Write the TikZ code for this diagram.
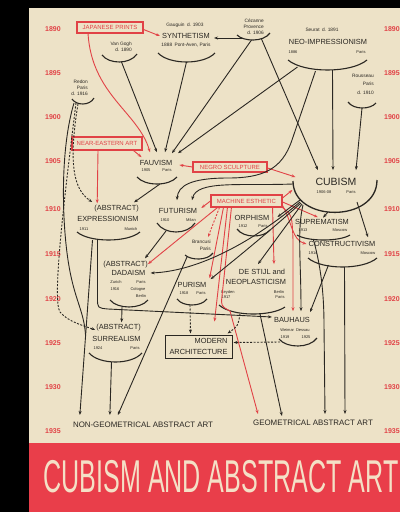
\documentclass[tikz,border=0pt]{standalone}
\usepackage{fontspec}
\setmainfont{Liberation Sans}
\usepackage{tikz}
\usetikzlibrary{arrows.meta,calc,positioning}
\definecolor{pagecream}{RGB}{237,226,199}
\definecolor{bandred}{RGB}{233,62,74}
\definecolor{titlecream}{RGB}{244,224,198}
\definecolor{inkgray}{RGB}{42,39,34}
\definecolor{chartred}{RGB}{225,66,70}

% bracket under a movement: name, x1, y1, x2, y2, y of the bottom
\newcommand{\arcunder}[6]{%
  \draw[arcline] (#2,#3) .. controls ({#2+0.2*(#4-#2)},{(4*#6-#3)/3}) and ({#4-0.2*(#4-#2)},{(4*#6-#5)/3}) .. (#4,#5);
  \coordinate (#1) at ({(#2+#4)/2},#6);}

\begin{document}
\begin{tikzpicture}[x=1pt, y=-1pt, >={Stealth[length=4pt, width=3pt]},
    mv/.style={text=inkgray, inner sep=0pt, font=\fontsize{7.4}{8}\selectfont},
    note/.style={text=inkgray, inner sep=0pt, font=\fontsize{4.8}{6}\selectfont},
    dt/.style={text=inkgray, inner sep=0pt, font=\fontsize{4}{5}\selectfont},
    srcbox/.style={draw=chartred, line width=1.1pt, text=chartred, inner sep=0pt, font=\fontsize{6}{7}\selectfont},
    yearlab/.style={text=chartred, inner sep=0pt, font=\bfseries\fontsize{7}{8}\selectfont},
    bottomlab/.style={text=inkgray, inner sep=0pt, font=\fontsize{7.9}{9}\selectfont},
    arcline/.style={draw=inkgray, line width=1.1pt},
    link/.style={->, draw=inkgray, line width=0.9pt},
    redlink/.style={->, draw=chartred, line width=0.9pt},
    dashlink/.style={link, dash pattern=on 2pt off 1.5pt}]
    \useasboundingbox (0,0) rectangle (400,512);
    \fill[black] (0,0) rectangle (400,512);
    \fill[pagecream] (29,8) rectangle (400,512);
    \fill[bandred] (29,443) rectangle (400,512);

    % years down both margins
    \foreach \yr/\yy in {1890/29, 1895/73, 1900/117, 1905/161, 1910/209, 1915/254, 1920/299, 1925/343, 1930/387, 1935/431} {
        \node[yearlab] (yl\yr) at (53,\yy) {\yr};
        \node[yearlab, anchor=west] (yr\yr) at (384,\yy) {\yr};
    }

    % sources
    \node[srcbox, minimum width=66pt, minimum height=11pt] (japan) at (110,27.5) {JAPANESE PRINTS};
    \node[srcbox, minimum width=70pt, minimum height=13pt] (neareast) at (107,143.5) {NEAR-EASTERN ART};
    \node[srcbox, minimum width=74pt, minimum height=10pt] (negro) at (230,167) {NEGRO SCULPTURE};
    \node[srcbox, minimum width=71pt, minimum height=12pt] (machine) at (246.5,201) {MACHINE ESTHETIC};

    % 1890s
    \node[note, align=right, anchor=east] (vangogh) at (132,46.5) {Van Gogh\\d. 1890};
    \arcunder{vg-b}{102}{55}{137}{54}{62}
    \node[note] (gauguin) at (185,25) {Gauguin\enspace d. 1903};
    \node[mv] (synth) at (186,36) {SYNTHETISM};
    \node[note] (synthdate) at (186,45) {1888\enspace Pont-Aven, Paris};
    \arcunder{syn-b}{158}{53}{215}{53}{62}
    \node[note, align=right, anchor=east] (cezanne) at (264,27) {Cézanne\\Provence\\d. 1906};
    \arcunder{cez-b}{237}{35}{270}{33}{40}
    \node[note] (seurat) at (322,30) {Seurat\enspace d. 1891};
    \node[mv] (neoimp) at (328,42) {NEO-IMPRESSIONISM};
    \node[dt] (neoimp-y) at (293,52) {1886};
    \node[dt] (neoimp-p) at (361,52) {Paris};
    \arcunder{neo-b}{288}{60}{367}{60}{70}
    \node[note, align=right, anchor=east, font=\fontsize{4.8}{8.5}\selectfont] (rousseau) at (374,84) {Rousseau\\Paris\\d. 1910};
    \arcunder{rou-b}{348}{102}{376}{103}{108}
    \node[note, align=right, anchor=east] (redon) at (88,88) {Redon\\Paris\\d. 1916};
    \arcunder{red-b}{72}{99}{94}{98}{104}

    % 1905--1915
    \node[mv] (fauv) at (156,163) {FAUVISM};
    \node[dt] (fauv-y) at (146,170.5) {1905};
    \node[dt] (fauv-p) at (167,170.5) {Paris};
    \arcunder{fauv-b}{137}{177}{177}{177}{184}
    \node[mv, font=\fontsize{10.5}{12}\selectfont] (cubism) at (336,182) {CUBISM};
    \node[dt] (cubism-y) at (324,192) {1906-08};
    \node[dt] (cubism-p) at (351,192) {Paris};
    \draw[arcline, line width=1.3pt] (293,181) .. controls (293,223) and (377,223) .. (377,180);
    \coordinate (cub-b) at (335,212);
    \node[mv, anchor=east] (abs1) at (139,209) {(ABSTRACT)};
    \node[mv] (expr) at (108,219) {EXPRESSIONISM};
    \node[dt] (expr-y) at (84,229) {1911};
    \node[dt] (expr-p) at (131,229) {Munich};
    \arcunder{expr-b}{77}{232}{140}{232}{240}
    \node[mv] (futur) at (178,211) {FUTURISM};
    \node[dt] (futur-y) at (165,220) {1910};
    \node[dt] (futur-p) at (191,220) {Milan};
    \arcunder{fut-b}{157}{223}{195}{223}{232}
    \node[mv] (orph) at (252,218) {ORPHISM};
    \node[dt] (orph-y) at (243,226) {1912};
    \node[dt] (orph-p) at (263,226) {Paris};
    \arcunder{orph-b}{237}{229}{270}{230}{236}
    \node[mv] (suprem) at (322,222) {SUPREMATISM};
    \node[dt] (suprem-y) at (303,230.5) {1913};
    \node[dt] (suprem-p) at (340,230.5) {Moscow};
    \arcunder{sup-b}{297}{235}{350}{235}{240}
    \node[mv] (constr) at (342,244) {CONSTRUCTIVISM};
    \node[dt] (constr-y) at (313,253) {1914};
    \node[dt] (constr-p) at (368,253) {Moscow};
    \arcunder{con-b}{308}{258}{377}{258}{267}
    \node[note, align=right, anchor=east, font=\fontsize{4.8}{7}\selectfont] (brancusi) at (211,245.5) {Brancusi\\Paris};
    \arcunder{bra-b}{185}{255}{213}{253}{259}

    % 1915--1925
    \node[mv, anchor=east] (abs2) at (148,265) {(ABSTRACT)};
    \node[mv] (dada) at (128.5,273) {DADAISM};
    \node[dt] (dada-zu) at (116,282) {Zurich};
    \node[dt] (dada-pa) at (141,282) {Paris};
    \node[dt] (dada-y) at (115,289) {1916};
    \node[dt] (dada-co) at (138,289) {Cologne};
    \node[dt] (dada-be) at (141,296) {Berlin};
    \arcunder{dada-b}{110}{300}{148}{300}{307}
    \node[mv] (purism) at (192,285) {PURISM};
    \node[dt] (purism-y) at (184,293) {1918};
    \node[dt] (purism-p) at (201,293) {Paris};
    \arcunder{pur-b}{177}{299}{207}{299}{305}
    \node[mv] (stijl) at (262,272) {DE STIJL and};
    \node[mv] (neopl) at (256,282) {NEOPLASTICISM};
    \node[dt] (stijl-le) at (228,292) {Leyden};
    \node[dt] (stijl-y) at (226,297.5) {1917};
    \node[dt] (stijl-be) at (279,292) {Berlin};
    \node[dt] (stijl-pa) at (280,297.5) {Paris};
    \arcunder{stijl-b}{219}{305}{285}{307}{314}
    \node[mv] (bauhaus) at (292,320) {BAUHAUS};
    \node[dt] (bauhaus-c) at (295,330) {Weimar\enspace Dessau};
    \node[dt] (bauhaus-y1) at (285,337) {1919};
    \node[dt] (bauhaus-y2) at (306,337) {1925};
    \arcunder{bau-b}{279}{339}{317}{338}{346}
    \node[draw=inkgray, line width=1pt, minimum width=67pt, minimum height=23pt, inner sep=0pt,
          align=right, text=inkgray, font=\fontsize{7.4}{11}\selectfont] (modern) at (198.5,346.5) {MODERN\hspace{6pt}\\ARCHITECTURE};
    \node[mv, anchor=east] (abs3) at (141,328) {(ABSTRACT)};
    \node[mv] (surreal) at (116.5,339) {SURREALISM};
    \node[dt] (surreal-y) at (98,348) {1924};
    \node[dt] (surreal-p) at (135,348) {Paris};
    \arcunder{sur-b}{89}{353}{142}{353}{362}

    % results
    \node[bottomlab] (nongeo) at (143,425) {NON-GEOMETRICAL ABSTRACT ART};
    \node[bottomlab] (geo) at (313,423) {GEOMETRICAL ABSTRACT ART};
    \node[text=titlecream, inner sep=0pt, font=\fontsize{46}{46}\selectfont] (title) at (221,477) {\scalebox{0.545}[1]{CUBISM AND ABSTRACT ART}};

    % red influences
    \draw[redlink] ($(japan.east)+(0,2)$) -- ($(synth.west)+(-2,0)$);
    \draw[redlink] ($(japan.south)+(-22,0)$) .. controls (92,95) and (138,112) .. ($(fauv.north)+(-6,-8)$);
    \draw[redlink] ($(neareast.south east)+(-9,0)$) -- ($(fauv.north west)+(2,-3)$);
    \draw[redlink] ($(neareast.south)+(-9,0)$) -- ($(abs1.north west)+(3,-2)$);
    \draw[redlink] (negro.west) -- ($(fauv.east)+(7,2)$);
    \draw[redlink] ($(negro.east)+(0,1)$) -- ($(cubism.west)+(-20,-5)$);
    \draw[redlink] (machine.west) -- ($(futur.east)+(4,-3)$);
    \draw[redlink] ($(machine.south west)+(7,0)$) -- ($(abs2.east)+(0,-1)$);
    \draw[redlink, dash pattern=on 2pt off 1.5pt] ($(machine.south west)+(9,0)$) -- ($(brancusi.north east)+(-3,-3)$);
    \draw[redlink] ($(machine.south west)+(13,0)$) -- ($(purism.north east)+(3,-4)$);
    \draw[redlink] ($(machine.south west)+(17,0)$) -- ($(modern.north)+(16,-13)$);
    \draw[redlink] ($(machine.south west)+(21,0)$) -- (222,296) .. controls (221,306) .. (230,311) -- ($(geo.north west)+(5,-6)$);
    \draw[redlink] ($(machine.south east)+(-10,0)$) -- ($(stijl.north)+(12,-5)$);
    \draw[redlink] ($(machine.east)+(0,-3)$) -- ($(cubism.west)+(-23,8)$);
    \draw[redlink] ($(machine.east)+(0,1)$) -- ($(suprem.north west)+(23,-2)$);
    \draw[redlink] ($(machine.south east)+(0,-2)$) .. controls (292,222) and (292,240) .. ($(constr.west)+(-2,0)$);
    \draw[redlink] (machine.south east) .. controls (292,215) .. (293,240) -- ($(bauhaus.north)+(1,-6)$);

    % black influences
    \draw[link] ($(cez-b)+(-11,-2)$) -- ($(synth.east)+(4,2)$);
    \draw[link] ($(vg-b)+(2,0)$) -- ($(fauv.north)+(1,-8)$);
    \draw[link] (syn-b) -- ($(fauv.north)+(9,-8)$);
    \draw[link] ($(cez-b)+(-2,0)$) -- ($(fauv.north)+(16,-7)$);
    \draw[link] ($(neo-b)+(-30,-3)$) -- ($(fauv.north)+(22,-7)$);
    \draw[link] ($(cez-b)+(8,-1)$) -- ($(cubism.north)+(-18,-8)$);
    \draw[link] ($(neo-b)+(5,0)$) -- ($(cubism.north)+(-3,-8)$);
    \draw[link] (rou-b) -- ($(cubism.north)+(20,-8)$);
    \draw[link] ($(neo-b)+(-12,1)$) -- (292,140) .. controls (282,170) and (262,178) .. (228,178) .. controls (190,178) and (178,186) .. ($(futur.north)+(-1,-8)$);
    \draw[link] ($(cub-b)+(-42,-28)$) .. controls (240,186) and (197,180) .. ($(futur.north)+(14,-8)$);
    \draw[dashlink] ($(red-b)+(-5,0)$) .. controls (68,165) and (74,190) .. ($(abs1.west)+(-2,-7)$);
    \draw[dashlink] ($(red-b)+(-7,-1)$) .. controls (64,200) and (52,300) .. (60,312) .. controls (68,322) and (85,326) .. ($(abs3.west)+(-1,2)$);
    \draw[line width=0.9pt, draw=inkgray] ($(red-b)+(-9,-1)$) .. controls (60,150) and (62,220) .. (68,260) .. controls (74,300) and (84,310) .. (85.5,335);
    \draw[link] ($(fauv-b)+(3,0)$) -- ($(abs1.north east)+(-5,-3)$);
    \draw[link] ($(cub-b)+(-35,-12)$) -- ($(orph.east)+(8,-1)$);
    \draw[link] ($(cub-b)+(-35,-10)$) .. controls (255,240) and (200,271) .. ($(dada.east)+(5,0)$);
    \draw[link] ($(cub-b)+(-34,-9)$) .. controls (262,238) and (228,265) .. ($(purism.north east)+(4,-3)$);
    \draw[link] ($(cub-b)+(-33,-8)$) -- ($(stijl.north)+(-4,-5)$);
    \draw[link] ($(cub-b)+(-32,-7)$) .. controls (297,230) and (301,260) .. ($(bauhaus.north)+(9,-6)$);
    \draw[link] ($(cub-b)+(-7,0)$) -- ($(suprem.north)+(1,-1.5)$);
    \draw[link] ($(cub-b)+(22,-10)$) -- ($(constr.north)+(26,-4)$);
    \draw[link] ($(fut-b)+(-10,-1)$) -- ($(abs2.north east)+(-3,-3)$);
    \draw[link] ($(expr-b)+(-16,0)$) -- ($(nongeo.north west)+(7,-7)$);
    \draw[link] ($(expr-b)+(-11,0)$) -- (97.5,298) .. controls (97.5,308) .. (108,309) -- ($(bauhaus.west)+(-2,-3)$);
    \draw[link] ($(dada-b)+(-7,0)$) -- ($(abs3.north)+(3,-2)$);
    \draw[link] ($(sur-b)+(-4,0)$) -- ($(nongeo.north west)+(37,-7)$);
    \draw[link] ($(bra-b)+(-12,-2)$) -- ($(nongeo.north west)+(45,-7)$);
    \draw[dashlink] ($(pur-b)+(-2,0)$) -- ($(modern.north)+(-8,-1)$);
    \draw[dashlink] ($(stijl-b)+(-12,0)$) .. controls (238,326) .. ($(modern.north east)+(-5,-1)$);
    \draw[dashlink] ($(bau-b)+(-18,-4)$) -- ($(modern.east)+(1,-4)$);
    \draw[link] ($(stijl-b)+(8,0)$) -- ($(geo.north west)+(29,-4)$);
    \draw[link] ($(con-b)+(-14,-2)$) -- ($(bauhaus.north)+(18,-5)$);
    \draw[link] ($(con-b)+(2,0)$) -- ($(geo.north)+(32,-6)$);
    \draw[link] ($(sup-b)+(-10,0)$) .. controls (322,270) and (324,300) .. (324,325) -- ($(geo.north)+(12,-6)$);
\end{tikzpicture}
\end{document}
